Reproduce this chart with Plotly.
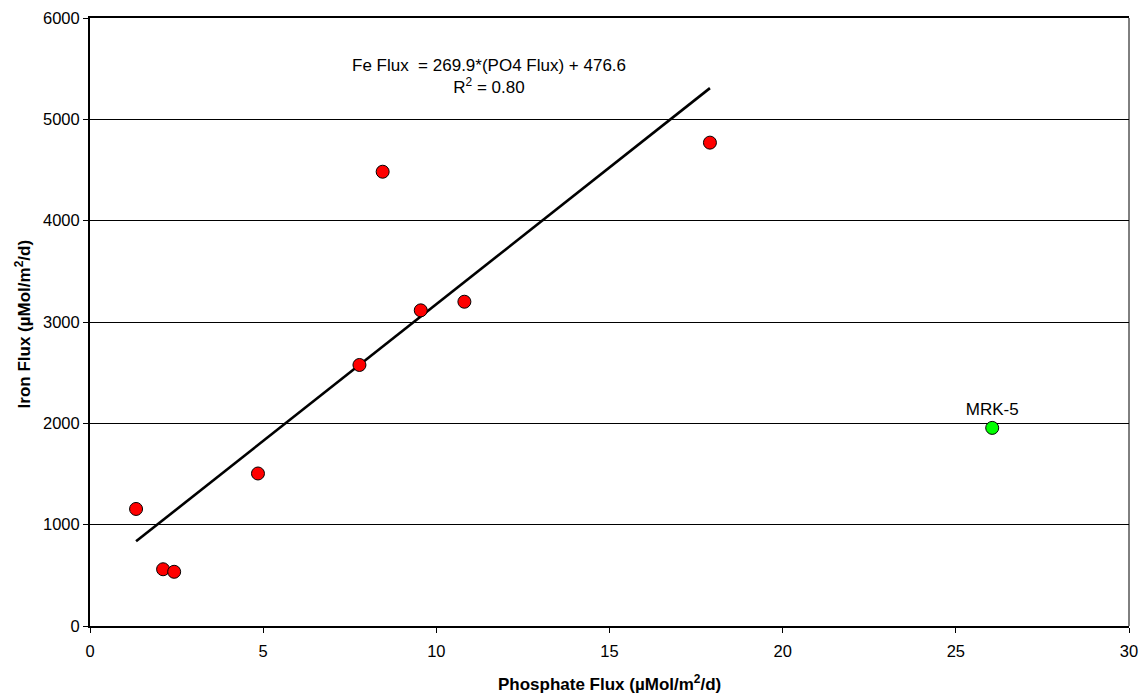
import plotly.graph_objects as go

# Data
po4_flux = [1.33, 2.11, 2.43, 4.85, 7.78, 8.45, 9.55, 10.81, 17.90]
fe_flux = [1155, 560, 535, 1505, 2576, 4483, 3115, 3200, 4770]
outlier_label = ["MRK-5"]
outlier_x = [26.05]
outlier_y = [1955]

slope = 269.9
intercept = 476.6
fit_x = [min(po4_flux), max(po4_flux)]
fit_y = [slope * v + intercept for v in fit_x]

x_ticks = [0, 5, 10, 15, 20, 25, 30]
y_ticks = [0, 1000, 2000, 3000, 4000, 5000, 6000]
x_title = "<b>Phosphate Flux (µMol/m<sup>2</sup>/d)</b>"
y_title = "<b>Iron Flux (µMol/m<sup>2</sup>/d)</b>"

fig = go.Figure()
fig.add_trace(go.Scatter(x=fit_x, y=fit_y, mode="lines",
                         line=dict(color="black", width=2.6), showlegend=False,
                         hoverinfo="skip"))
fig.add_trace(go.Scatter(x=po4_flux, y=fe_flux, mode="markers",
                         marker=dict(color="#FF0000", size=13,
                                     line=dict(color="black", width=1)),
                         showlegend=False))
fig.add_trace(go.Scatter(x=outlier_x, y=outlier_y, mode="markers+text",
                         text=outlier_label, textposition="top center",
                         textfont=dict(size=17, color="black"),
                         marker=dict(color="#00FF00", size=13,
                                     line=dict(color="black", width=1)),
                         showlegend=False))

fig.add_annotation(x=0.3845, y=0.9038, xref="paper", yref="paper",
                   text="Fe Flux  = 269.9*(PO4 Flux) + 476.6<br>R<sup>2</sup> = 0.80",
                   showarrow=False, align="center", yanchor="middle",
                   font=dict(size=17, color="black"))
# axis titles
fig.add_annotation(x=0.5, y=-0.0938, xref="paper", yref="paper",
                   text=x_title, showarrow=False, xanchor="center", yanchor="middle",
                   font=dict(size=17, color="black"))
fig.add_annotation(x=-0.0645, y=0.496, xref="paper", yref="paper",
                   text=y_title, showarrow=False, textangle=-90,
                   xanchor="center", yanchor="middle",
                   font=dict(size=17, color="black"))

fig.update_layout(
    width=1143, height=693,
    margin=dict(l=90, r=14, t=18, b=67),
    paper_bgcolor="white", plot_bgcolor="white",
    font=dict(family="Liberation Sans, Arial, sans-serif", size=16.5, color="black"),
)
fig.update_xaxes(range=[0, 30], tickvals=x_ticks, showgrid=False,
                 showline=True, linecolor="black", linewidth=1.5, mirror=True,
                 ticks="outside", ticklen=5, tickcolor="black",
                 tickfont=dict(size=16.5), ticklabelstandoff=4,
                 zeroline=False, automargin=False)
fig.update_yaxes(range=[0, 6000], tickvals=y_ticks, showgrid=True,
                 gridcolor="black", gridwidth=1,
                 showline=True, linecolor="black", linewidth=2, mirror=False,
                 ticks="outside", ticklen=5, tickcolor="black",
                 tickfont=dict(size=16.5),
                 zeroline=False, automargin=False)
# right border of plot area
fig.add_shape(type="line", xref="paper", yref="paper", x0=1, x1=1, y0=0, y1=1,
              line=dict(color="black", width=1))

fig.write_html("out.html", config={"displayModeBar": False},
               post_script="document.body.style.margin='0';"
                           "document.body.style.overflow='hidden';"
                           "document.documentElement.style.overflow='hidden';")
